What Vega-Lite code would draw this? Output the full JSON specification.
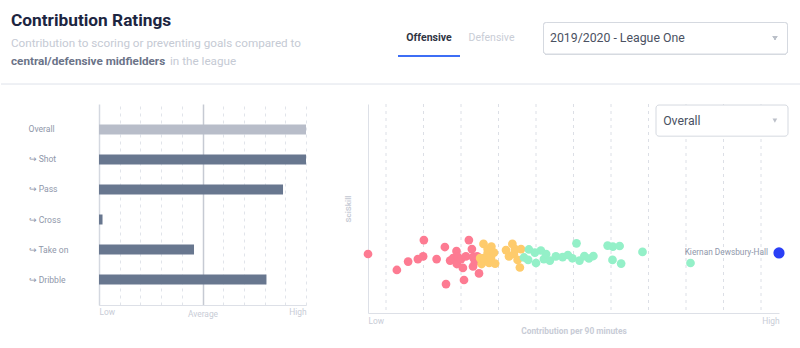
{
  "$schema": "https://vega.github.io/schema/vega-lite/v6.json",
  "background": "white",
  "padding": 0,
  "config": {"font": "Roboto", "view": {"stroke": null}},
  "bounds": "flush",
  "spacing": 0,
  "vconcat": [
    {
      "width": 800,
      "height": 104,
      "data": {"values": [
        {"item": "title", "text": "Contribution Ratings"},
        {"item": "sub1", "text": "Contribution to scoring or preventing goals compared to"},
        {"item": "sub2a", "text": "central/defensive midfielders"},
        {"item": "sub2b", "text": "in the league"},
        {"item": "tab1", "text": "Offensive"},
        {"item": "tab2", "text": "Defensive"},
        {"item": "season", "text": "2019/2020 - League One"}
      ]},
      "layer": [
        {
          "transform": [{"filter": "datum.item === 'title'"}],
          "mark": {"type": "text", "align": "left", "baseline": "alphabetic", "fontSize": 17.3, "fontWeight": "bold", "color": "#1c2541"},
          "encoding": {
            "x": {"datum": 10, "type": "quantitative", "scale": {"domain": [0, 800], "nice": false, "zero": false}, "axis": null},
            "y": {"datum": 26, "type": "quantitative", "scale": {"domain": [0, 104], "reverse": true, "nice": false, "zero": false}, "axis": null},
            "text": {"field": "text"}
          }
        },
        {
          "transform": [{"filter": "datum.item === 'sub1'"}],
          "mark": {"type": "text", "align": "left", "baseline": "alphabetic", "fontSize": 11.7, "color": "#c5cad4"},
          "encoding": {
            "x": {"datum": 10, "type": "quantitative", "axis": null},
            "y": {"datum": 46.7, "type": "quantitative", "axis": null},
            "text": {"field": "text"}
          }
        },
        {
          "transform": [{"filter": "datum.item === 'sub2a'"}],
          "mark": {"type": "text", "align": "left", "baseline": "alphabetic", "fontSize": 11.7, "fontWeight": "bold", "color": "#6b7388"},
          "encoding": {
            "x": {"datum": 10, "type": "quantitative", "axis": null},
            "y": {"datum": 65.3, "type": "quantitative", "axis": null},
            "text": {"field": "text"}
          }
        },
        {
          "transform": [{"filter": "datum.item === 'sub2b'"}],
          "mark": {"type": "text", "align": "left", "baseline": "alphabetic", "fontSize": 11.7, "color": "#c5cad4"},
          "encoding": {
            "x": {"datum": 169, "type": "quantitative", "axis": null},
            "y": {"datum": 65.3, "type": "quantitative", "axis": null},
            "text": {"field": "text"}
          }
        },
        {
          "mark": {"type": "rect", "color": "#3d6ef5"},
          "encoding": {
            "x": {"datum": 397, "type": "quantitative", "axis": null},
            "x2": {"datum": 459},
            "y": {"datum": 55, "type": "quantitative", "axis": null},
            "y2": {"datum": 57}
          }
        },
        {
          "transform": [{"filter": "datum.item === 'tab1'"}],
          "mark": {"type": "text", "align": "center", "baseline": "middle", "fontSize": 10.5, "fontWeight": "bold", "color": "#2f3443"},
          "encoding": {
            "x": {"datum": 428, "type": "quantitative", "axis": null},
            "y": {"datum": 38.3, "type": "quantitative", "axis": null},
            "text": {"field": "text"}
          }
        },
        {
          "transform": [{"filter": "datum.item === 'tab2'"}],
          "mark": {"type": "text", "align": "center", "baseline": "middle", "fontSize": 10.5, "color": "#c9cdd6"},
          "encoding": {
            "x": {"datum": 490.5, "type": "quantitative", "axis": null},
            "y": {"datum": 38.3, "type": "quantitative", "axis": null},
            "text": {"field": "text"}
          }
        },
        {
          "mark": {"type": "rect", "fill": "white", "stroke": "#d5d9e0", "strokeWidth": 1, "cornerRadius": 3},
          "encoding": {
            "x": {"datum": 542.5, "type": "quantitative", "axis": null},
            "x2": {"datum": 786.5},
            "y": {"datum": 22.5, "type": "quantitative", "axis": null},
            "y2": {"datum": 54}
          }
        },
        {
          "transform": [{"filter": "datum.item === 'season'"}],
          "mark": {"type": "text", "align": "left", "baseline": "middle", "fontSize": 12.3, "color": "#4a5162"},
          "encoding": {
            "x": {"datum": 549, "type": "quantitative", "axis": null},
            "y": {"datum": 38.3, "type": "quantitative", "axis": null},
            "text": {"field": "text"}
          }
        },
        {
          "mark": {"type": "point", "shape": "triangle-down", "filled": true, "size": 22, "color": "#bcc0c9", "opacity": 1},
          "encoding": {
            "x": {"datum": 774, "type": "quantitative", "axis": null},
            "y": {"datum": 38, "type": "quantitative", "axis": null}
          }
        },
        {
          "mark": {"type": "rule", "color": "#eef0f4", "strokeWidth": 1},
          "encoding": {
            "y": {"datum": 84, "type": "quantitative", "axis": null}
          }
        }
      ]
    },
    {
      "bounds": "flush",
      "spacing": 62,
      "resolve": {"scale": {"color": "independent"}},
      "hconcat": [
        {
          "width": 36,
          "height": 1,
          "data": {"values": [{}]},
          "mark": {"type": "point", "opacity": 0}
        },
        {
          "width": 207,
          "height": 201,
          "data": {"values": [
            {"label": "Overall", "rating": 100, "kind": "overall"},
            {"label": "↪ Shot", "rating": 100, "kind": "sub"},
            {"label": "↪ Pass", "rating": 88.9, "kind": "sub"},
            {"label": "↪ Cross", "rating": 1.7, "kind": "sub"},
            {"label": "↪ Take on", "rating": 45.9, "kind": "sub"},
            {"label": "↪ Dribble", "rating": 80.9, "kind": "sub"}
          ]},
          "mark": {"type": "bar"},
          "encoding": {
            "y": {"field": "label", "type": "nominal", "sort": null,
                  "scale": {"paddingInner": 0.6667, "paddingOuter": 0.6833},
                  "axis": {"title": null, "ticks": false, "domain": true, "domainColor": "#d4d8e0", "domainWidth": 1.5,
                           "labelAlign": "left", "labelPadding": 71, "labelColor": "#8f97aa", "labelFontSize": 8.6}},
            "x": {"field": "rating", "type": "quantitative",
                  "scale": {"domain": [0, 100], "nice": false},
                  "axis": {"title": null, "values": [0, 10, 20, 30, 40, 50, 60, 70, 80, 90, 100],
                           "labelExpr": "datum.value == 0 ? 'Low' : datum.value == 50 ? 'Average' : datum.value == 100 ? 'High' : ''",
                           "labelFlush": true, "ticks": false, "domainColor": "#dde0e7",
                           "labelColor": "#c8ccd6", "labelFontSize": 8.4,
                           "labelPadding": {"condition": {"test": "datum.value == 50", "value": 4.5}, "value": 2.5},
                           "grid": true,
                           "gridColor": {"condition": {"test": "datum.value == 50", "value": "#c6cad3"}, "value": "#e1e4ea"},
                           "gridDash": {"condition": {"test": "datum.value == 50", "value": []}, "value": [3, 4]},
                           "gridWidth": {"condition": {"test": "datum.value == 50", "value": 1.5}, "value": 1}}},
            "color": {"field": "kind", "type": "nominal", "scale": {"domain": ["overall", "sub"], "range": ["#b8bdc9", "#68778f"]}, "legend": null}
          }
        },
        {
          "width": 411,
          "height": 209,
          "layer": [
            {
              "data": {"values": [
                {"tick": 0}, {"tick": 0.1}, {"tick": 0.2}, {"tick": 0.3}, {"tick": 0.4}, {"tick": 0.5},
                {"tick": 0.6}, {"tick": 0.7}, {"tick": 0.8}, {"tick": 0.9}, {"tick": 1.0}
              ]},
              "mark": {"type": "rule", "color": "#dcdfe6", "strokeWidth": 1, "strokeDash": [3, 4]},
              "encoding": {
                "x": {"field": "tick", "type": "quantitative", "title": "Contribution per 90 minutes"}
              }
            },
            {
              "data": {"values": [
                {"band": "low", "contribution": -0.048, "sciskill": 0.288},
                {"band": "low", "contribution": 0.029, "sciskill": 0.210},
                {"band": "low", "contribution": 0.059, "sciskill": 0.251},
                {"band": "low", "contribution": 0.085, "sciskill": 0.263},
                {"band": "low", "contribution": 0.099, "sciskill": 0.276},
                {"band": "low", "contribution": 0.101, "sciskill": 0.356},
                {"band": "low", "contribution": 0.135, "sciskill": 0.263},
                {"band": "low", "contribution": 0.157, "sciskill": 0.322},
                {"band": "low", "contribution": 0.160, "sciskill": 0.141},
                {"band": "low", "contribution": 0.171, "sciskill": 0.256},
                {"band": "low", "contribution": 0.179, "sciskill": 0.268},
                {"band": "low", "contribution": 0.188, "sciskill": 0.302},
                {"band": "low", "contribution": 0.189, "sciskill": 0.239},
                {"band": "low", "contribution": 0.192, "sciskill": 0.273},
                {"band": "low", "contribution": 0.200, "sciskill": 0.263},
                {"band": "low", "contribution": 0.205, "sciskill": 0.220},
                {"band": "low", "contribution": 0.208, "sciskill": 0.161},
                {"band": "low", "contribution": 0.213, "sciskill": 0.276},
                {"band": "low", "contribution": 0.221, "sciskill": 0.356},
                {"band": "low", "contribution": 0.229, "sciskill": 0.312},
                {"band": "low", "contribution": 0.232, "sciskill": 0.273},
                {"band": "low", "contribution": 0.232, "sciskill": 0.227},
                {"band": "low", "contribution": 0.237, "sciskill": 0.249},
                {"band": "low", "contribution": 0.243, "sciskill": 0.276},
                {"band": "low", "contribution": 0.248, "sciskill": 0.193},
                {"band": "mid", "contribution": 0.251, "sciskill": 0.268},
                {"band": "mid", "contribution": 0.255, "sciskill": 0.239},
                {"band": "mid", "contribution": 0.260, "sciskill": 0.337},
                {"band": "mid", "contribution": 0.261, "sciskill": 0.268},
                {"band": "mid", "contribution": 0.271, "sciskill": 0.293},
                {"band": "mid", "contribution": 0.271, "sciskill": 0.312},
                {"band": "mid", "contribution": 0.275, "sciskill": 0.244},
                {"band": "mid", "contribution": 0.280, "sciskill": 0.268},
                {"band": "mid", "contribution": 0.281, "sciskill": 0.324},
                {"band": "mid", "contribution": 0.288, "sciskill": 0.295},
                {"band": "mid", "contribution": 0.291, "sciskill": 0.241},
                {"band": "mid", "contribution": 0.320, "sciskill": 0.307},
                {"band": "mid", "contribution": 0.328, "sciskill": 0.276},
                {"band": "mid", "contribution": 0.337, "sciskill": 0.337},
                {"band": "mid", "contribution": 0.341, "sciskill": 0.288},
                {"band": "mid", "contribution": 0.344, "sciskill": 0.312},
                {"band": "mid", "contribution": 0.351, "sciskill": 0.259},
                {"band": "mid", "contribution": 0.357, "sciskill": 0.222},
                {"band": "mid", "contribution": 0.360, "sciskill": 0.312},
                {"band": "high", "contribution": 0.368, "sciskill": 0.271},
                {"band": "high", "contribution": 0.379, "sciskill": 0.259},
                {"band": "high", "contribution": 0.381, "sciskill": 0.310},
                {"band": "high", "contribution": 0.397, "sciskill": 0.295},
                {"band": "high", "contribution": 0.400, "sciskill": 0.244},
                {"band": "high", "contribution": 0.413, "sciskill": 0.305},
                {"band": "high", "contribution": 0.421, "sciskill": 0.263},
                {"band": "high", "contribution": 0.427, "sciskill": 0.288},
                {"band": "high", "contribution": 0.437, "sciskill": 0.256},
                {"band": "high", "contribution": 0.453, "sciskill": 0.276},
                {"band": "high", "contribution": 0.471, "sciskill": 0.273},
                {"band": "high", "contribution": 0.485, "sciskill": 0.283},
                {"band": "high", "contribution": 0.497, "sciskill": 0.267},
                {"band": "high", "contribution": 0.508, "sciskill": 0.340},
                {"band": "high", "contribution": 0.516, "sciskill": 0.256},
                {"band": "high", "contribution": 0.529, "sciskill": 0.278},
                {"band": "high", "contribution": 0.541, "sciskill": 0.266},
                {"band": "high", "contribution": 0.553, "sciskill": 0.278},
                {"band": "high", "contribution": 0.591, "sciskill": 0.329},
                {"band": "high", "contribution": 0.604, "sciskill": 0.259},
                {"band": "high", "contribution": 0.605, "sciskill": 0.324},
                {"band": "high", "contribution": 0.623, "sciskill": 0.327},
                {"band": "high", "contribution": 0.627, "sciskill": 0.241},
                {"band": "high", "contribution": 0.684, "sciskill": 0.298},
                {"band": "high", "contribution": 0.812, "sciskill": 0.244},
                {"band": "player", "contribution": 1.048, "sciskill": 0.293, "name": "Kiernan Dewsbury-Hall"}
              ]},
              "layer": [
                {
                  "mark": {"type": "circle", "opacity": 1},
                  "encoding": {
                    "x": {"field": "contribution", "type": "quantitative",
                          "scale": {"domain": [-0.048, 1.048], "nice": false, "zero": false},
                          "axis": {"title": "Contribution per 90 minutes", "titleFontSize": 8.4, "titleFontWeight": "bold", "titleColor": "#c8ccd6", "titlePadding": 2,
                                   "values": [-0.048, 1.048],
                                   "labelExpr": "datum.value < 0 ? 'Low' : 'High'",
                                   "labelFlush": true, "ticks": false, "domainColor": "#dde0e7", "labelColor": "#c8ccd6", "labelFontSize": 8.4, "labelPadding": 3,
                                   "grid": false}},
                    "y": {"field": "sciskill", "type": "quantitative",
                          "scale": {"domain": [0, 1.02], "nice": false, "zero": false},
                          "axis": {"title": "SciSkill", "titleFontSize": 8, "titleFontWeight": "bold", "titleColor": "#c8ccd6", "titlePadding": 16,
                                   "labels": false, "ticks": false, "grid": false, "domainColor": "#dde0e7"}},
                    "color": {"field": "band", "type": "nominal", "scale": {"domain": ["low", "mid", "high", "player"], "range": ["#fd7b92", "#fecb6c", "#94f0c8", "#2a3ff6"]}, "legend": null},
                    "size": {"condition": {"test": "datum.band === 'player'", "value": 125}, "value": 76}
                  }
                },
                {
                  "transform": [{"filter": "datum.band === 'player'"}],
                  "mark": {"type": "text", "align": "right", "baseline": "middle", "dx": -11, "fontSize": 8.3, "color": "#8f97aa"},
                  "encoding": {
                    "x": {"field": "contribution", "type": "quantitative"},
                    "y": {"field": "sciskill", "type": "quantitative"},
                    "text": {"field": "name"}
                  }
                }
              ]
            },
            {
              "data": {"values": [{"menu": "Overall"}]},
              "layer": [
                {
                  "mark": {"type": "rect", "fill": "white", "stroke": "#d5d9e0", "strokeWidth": 1, "cornerRadius": 3},
                  "encoding": {
                    "x": {"datum": 0.720, "type": "quantitative"},
                    "x2": {"datum": 1.072},
                    "y": {"datum": 1.015, "type": "quantitative"},
                    "y2": {"datum": 0.863}
                  }
                },
                {
                  "mark": {"type": "text", "align": "left", "baseline": "middle", "fontSize": 12.3, "color": "#4a5162"},
                  "encoding": {
                    "x": {"datum": 0.739, "type": "quantitative"},
                    "y": {"datum": 0.939, "type": "quantitative"},
                    "text": {"field": "menu"}
                  }
                },
                {
                  "mark": {"type": "point", "shape": "triangle-down", "filled": true, "size": 22, "color": "#bcc0c9", "opacity": 1},
                  "encoding": {
                    "x": {"datum": 1.037, "type": "quantitative"},
                    "y": {"datum": 0.939, "type": "quantitative"}
                  }
                }
              ]
            }
          ]
        }
      ]
    }
  ]
}
